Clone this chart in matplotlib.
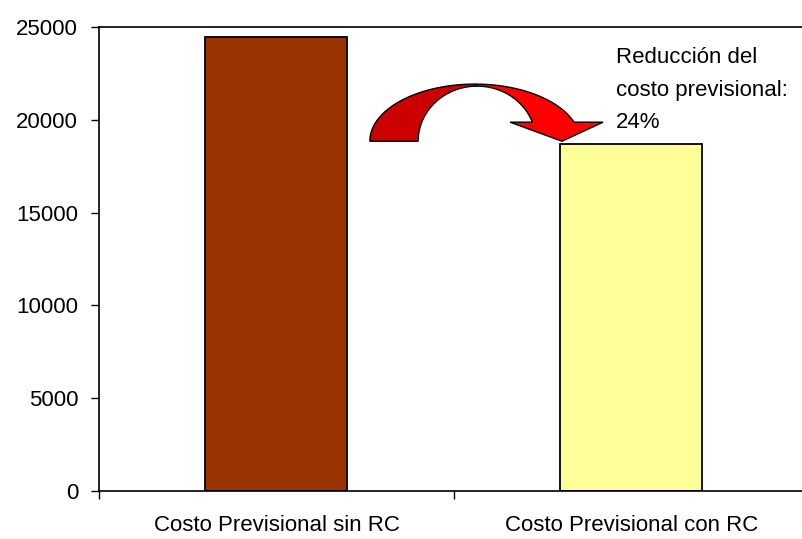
import numpy as np
import matplotlib
matplotlib.use("Agg")
import matplotlib.pyplot as plt
from matplotlib.patches import Polygon

categories = ["Costo Previsional sin RC", "Costo Previsional con RC"]
costs = [24450, 18680]
bar_colors = ["#993300", "#FFFF99"]
note = "Reducción del\ncosto previsional:\n24%"

plt.rcParams["font.family"] = ["Liberation Sans", "DejaVu Sans"]
plt.rcParams["font.size"] = 16

fig = plt.figure(figsize=(8.03, 5.39), dpi=100)
ax = fig.add_axes([99 / 803, 48 / 539, 710 / 803, 464 / 539])

x = np.arange(len(categories))
ax.bar(x, costs, width=0.40, color=bar_colors, edgecolor="black", linewidth=1.3, zorder=2)

ax.set_xlim(-0.5, 1.5)
ax.set_ylim(0, 25000)
ax.set_yticks(np.arange(0, 25001, 5000))
ax.tick_params(axis="y", direction="out", length=6, width=1, pad=9)

# category labels in the middle, tick marks between categories
ax.set_xticks(x)
ax.set_xticklabels(categories)
ax.tick_params(axis="x", which="major", length=0, pad=17)
ax.set_xticks([-0.5, 0.5, 1.5], minor=True)
ax.tick_params(axis="x", which="minor", direction="out", length=6, width=1)

ax.spines["right"].set_visible(False)
for s in ("left", "bottom", "top"):
    ax.spines[s].set_linewidth(1.2)


# curved block arrow from the first bar to the second
def arc(cx, cy, rx, ry, a0, a1, n=60):
    t = np.radians(np.linspace(a0, a1, n))
    return np.column_stack([cx + rx * np.cos(t), cy + ry * np.sin(t)])


base = 18845
# back half (darker): crescent between the two arcs
outer = arc(0.559, base, 0.296, 3078, 180, 90)
inner = arc(0.565, base, 0.166, 2970, 90, 180)
back = np.vstack([outer, inner])
ax.add_patch(Polygon(back, closed=True, facecolor="#CC0000", edgecolor="black",
                     linewidth=1, zorder=3))

# front half (bright) with the arrow head
shaft_y = 19872
a_out = np.degrees(np.arcsin((shaft_y - base) / 3078))
a_in = np.degrees(np.arcsin((shaft_y - base) / 2970))
outer_f = arc(0.559, base, 0.296, 3078, 90, a_out)
inner_f = arc(0.565, base, 0.166, 2970, a_in, 90)
head = np.array([[0.920, shaft_y], [0.804, base], [0.658, shaft_y]])
front = np.vstack([outer_f, head, inner_f])
ax.add_patch(Polygon(front, closed=True, facecolor="#FF0000", edgecolor="black",
                     linewidth=1, zorder=4))

ax.text(0.955, 23900, note, ha="left", va="top", linespacing=1.7, zorder=5)

fig.savefig("out.png", dpi=100)
